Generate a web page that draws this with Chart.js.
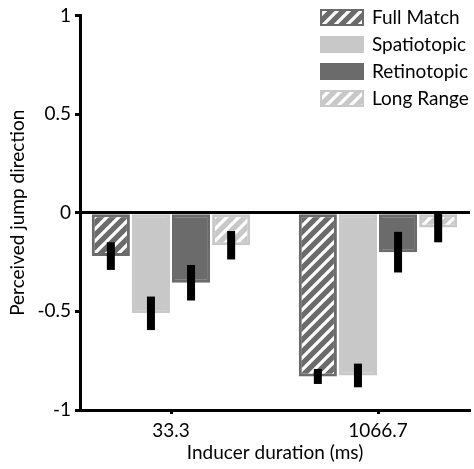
<!DOCTYPE html>
<html>
<head>
<meta charset="utf-8">
<script src="https://cdn.jsdelivr.net/npm/chart.js@4"></script>
<style>
  html, body { margin: 0; padding: 0; background: #fff; }
  canvas { display: block; }
</style>
</head>
<body>
<canvas id="jumpChart" width="474" height="469"></canvas>
<script>
document.addEventListener("DOMContentLoaded", function () {
    const categories = ['33.3', '1066.7'];
    const seriesNames = ['Full Match', 'Spatiotopic', 'Retinotopic', 'Long Range'];
    const fullMatch = [-0.22, -0.83];
    const spatiotopic = [-0.51, -0.825];
    const retinotopic = [-0.355, -0.20];
    const longRange = [-0.165, -0.075];
    const fullMatchErr = [0.07, 0.038];
    const spatiotopicErr = [0.085, 0.06];
    const retinotopicErr = [0.09, 0.103];
    const longRangeErr = [0.072, 0.075];
    const yTicks = [-1, -0.5, 0, 0.5, 1];

    const dark = '#6b6b6b';
    const light = '#c8c8c8';
    const fontFamily = "Lato, 'DejaVu Sans', sans-serif";

    function stripes(base) {
        const tile = document.createElement('canvas');
        tile.width = 12;
        tile.height = 12;
        const t = tile.getContext('2d');
        t.fillStyle = base;
        t.fillRect(0, 0, 12, 12);
        t.strokeStyle = '#ffffff';
        t.lineWidth = 3.2;
        t.beginPath();
        t.moveTo(-6, 6); t.lineTo(6, -6);
        t.moveTo(0, 12); t.lineTo(12, 0);
        t.moveTo(6, 18); t.lineTo(18, 6);
        t.stroke();
        return t.createPattern(tile, 'repeat');
    }

    const series = [
        { values: fullMatch, err: fullMatchErr, fill: stripes(dark), border: dark },
        { values: spatiotopic, err: spatiotopicErr, fill: light, border: light },
        { values: retinotopic, err: retinotopicErr, fill: dark, border: dark },
        { values: longRange, err: longRangeErr, fill: stripes(light), border: light }
    ];

    const errorBars = {
        id: 'errorBars',
        afterDatasetsDraw(chart) {
            const ctx = chart.ctx;
            const y = chart.scales.y;
            ctx.save();
            ctx.fillStyle = '#000';
            chart.data.datasets.forEach((ds, di) => {
                const meta = chart.getDatasetMeta(di);
                meta.data.forEach((bar, i) => {
                    const v = series[di].values[i];
                    const e = series[di].err[i];
                    const top = y.getPixelForValue(v + e);
                    const bottom = y.getPixelForValue(v - e);
                    ctx.fillRect(bar.x - 4, top, 8, bottom - top);
                });
            });
            ctx.restore();
        }
    };

    const boxLegend = {
        id: 'boxLegend',
        afterDraw(chart) {
            const ctx = chart.ctx;
            ctx.save();
            ctx.font = '19px ' + fontFamily;
            ctx.textBaseline = 'middle';
            chart.data.datasets.forEach((ds, i) => {
                const top = 9 + i * 27;
                ctx.fillStyle = series[i].fill;
                ctx.fillRect(320, top, 44, 17);
                if (series[i].fill !== series[i].border) {
                    ctx.strokeStyle = series[i].border;
                    ctx.lineWidth = 2;
                    ctx.strokeRect(321, top + 1, 42, 15);
                }
                ctx.fillStyle = '#000';
                ctx.fillText(ds.label, 372, top + 9);
            });
            ctx.restore();
        }
    };

    const ctx = document.getElementById('jumpChart').getContext('2d');
    new Chart(ctx, {
        type: 'bar',
        data: {
            datasets: series.map((s, i) => ({
                label: seriesNames[i],
                data: s.values.map((v, j) => ({ x: j + 1, y: v })),
                backgroundColor: s.fill,
                borderColor: s.border,
                borderWidth: 3,
                borderSkipped: false,
                categoryPercentage: 0.775,
                barPercentage: 0.95
            }))
        },
        options: {
            responsive: false,
            animation: false,
            devicePixelRatio: 1,
            layout: { padding: { top: 15, right: 4, left: 0, bottom: 0 } },
            plugins: {
                legend: { display: false },
                tooltip: { enabled: false }
            },
            scales: {
                x: {
                    type: 'linear',
                    offset: false,
                    bounds: 'data',
                    min: 0.5604,
                    max: 2.4444,
                    afterBuildTicks: (scale) => {
                        scale.ticks = categories.map((c, i) => ({ value: i + 1 }));
                    },
                    afterFit: (scale) => { scale.height = 59; },
                    ticks: {
                        callback: (v) => categories[v - 1],
                        color: '#000',
                        padding: 5,
                        maxRotation: 0,
                        font: { family: fontFamily, size: 19 }
                    },
                    grid: {
                        offset: false,
                        drawOnChartArea: false,
                        drawTicks: true,
                        tickLength: 4,
                        tickWidth: 3,
                        tickColor: '#000'
                    },
                    border: { color: '#000', width: 3 },
                    title: {
                        display: true,
                        text: 'Inducer duration (ms)',
                        color: '#000',
                        padding: { top: 0, bottom: 5 },
                        font: { family: fontFamily, size: 19 }
                    }
                },
                y: {
                    min: -1,
                    max: 1,
                    z: 1,
                    afterBuildTicks: (scale) => {
                        scale.ticks = yTicks.map(v => ({ value: v }));
                    },
                    afterFit: (scale) => { scale.width = 80; },
                    ticks: {
                        callback: (v) => String(v),
                        color: '#000',
                        padding: 4,
                        font: { family: fontFamily, size: 19 }
                    },
                    grid: {
                        color: (c) => (c.tick && c.tick.value === 0 ? '#000' : 'rgba(0,0,0,0)'),
                        lineWidth: 3,
                        drawTicks: true,
                        tickLength: 5,
                        tickWidth: 3,
                        tickColor: '#000'
                    },
                    border: { color: '#000', width: 3 },
                    title: {
                        display: true,
                        text: 'Perceived jump direction',
                        color: '#000',
                        padding: { top: 6, bottom: 0 },
                        font: { family: fontFamily, size: 19 }
                    }
                }
            }
        },
        plugins: [errorBars, boxLegend]
    });
});
</script>
</body>
</html>
